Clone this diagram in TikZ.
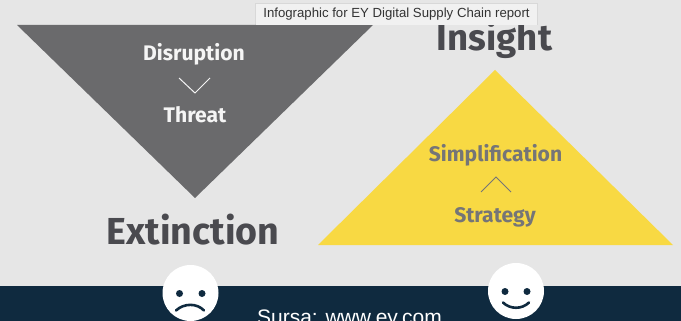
\documentclass[tikz,border=0pt]{standalone}
\usepackage{fontspec}
\setmainfont{Fira Sans}
\newfontfamily\arialf{Liberation Sans}
\definecolor{bgc}{HTML}{E6E6E6}
\definecolor{barc}{HTML}{0F2A3F}
\definecolor{grayt}{HTML}{6A6A6C}
\definecolor{yel}{HTML}{F8D943}
\definecolor{darkt}{HTML}{4A4A4F}
\definecolor{midt}{HTML}{757577}
\definecolor{tipc}{HTML}{F1F1F1}
\tikzset{
  lbl/.style={inner sep=0pt,anchor=base,font=\fontsize{21.1}{24}\selectfont\bfseries},
  big/.style={inner sep=0pt,anchor=base,text=darkt},
  face/.style={circle,fill=white,draw=none,minimum size=56pt,inner sep=0pt},
  eye/.style={circle,fill=barc,draw=none,minimum size=7pt,inner sep=0pt},
  mouth/.style={draw=barc,line width=2.6pt,line cap=round},
  chev/.style={line width=1pt},
}
\begin{document}
\begin{tikzpicture}[x=1pt,y=-1pt]
\useasboundingbox (0,0) rectangle (681,321);
\clip (0,0) rectangle (681,321);
\fill[bgc] (0,0) rectangle (681,321);
\fill[barc] (0,286) rectangle (681,321);
\fill[grayt] (17,25) -- (373,25) -- (195,198) -- cycle;
\fill[yel] (495,70) -- (673,245) -- (318,245) -- cycle;
\node[lbl,text=white!92!gray] (disruption) at (194,61) {Disruption};
\node[lbl,text=white!92!gray] (threat) at (195,123) {Threat};
\draw[chev,white!92!gray] (179,78) -- (195,93) -- (210,78);
\node[lbl,text=midt] (simpl) at (495.5,161) {Simplification};
\node[lbl,text=midt] (strat) at (495,222) {Strategy};
\draw[chev,midt] (481,192) -- (496,177) -- (511,192);
\node[big,font=\fontsize{36.6}{40}\selectfont\bfseries] (insight) at (494.5,51) {Insight};
\node[big,font=\fontsize{37.6}{40}\selectfont\bfseries] (extinction) at (193,244) {Extinction};
\node[inner sep=0pt,anchor=base,text=white,font=\arialf\fontsize{21}{24}\selectfont] (src) at (349.5,324) {Sursa: www.ey.com};
\node[face] (sad) at (190.5,293) {};
\node[eye] (sadl) at (179.5,293.5) {};
\node[eye] (sadr) at (202,293.5) {};
\draw[mouth] (176,310.5) .. controls (184,303) and (197,303) .. (204,310.5);
\node[face] (happy) at (516,291) {};
\node[eye] (hapl) at (505,291.5) {};
\node[eye] (hapr) at (527,291.5) {};
\draw[mouth] (503,302.5) .. controls (510,309.5) and (522,309.5) .. (529,302.5);
\fill[black,opacity=.06] (255,3.5) rectangle (538,25.5);
\node[fill=tipc,inner sep=0pt,minimum width=281pt,minimum height=21pt,text=black!80,font=\arialf\fontsize{13.2}{15}\selectfont] (tip) at (396.5,14.5) {Infographic for EY Digital Supply Chain report};
\end{tikzpicture}
\end{document}
